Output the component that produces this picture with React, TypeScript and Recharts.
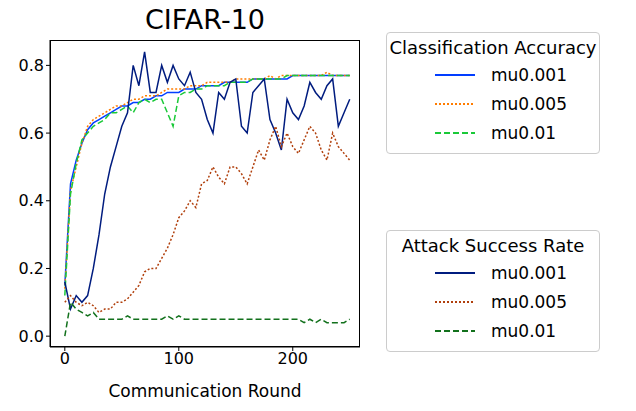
import React from "react";
import { LineChart, Line, XAxis, YAxis } from "recharts";

const rounds = Array.from({ length: 51 }, (_, i) => i * 5);
const accMu001 = [0.15,0.45,0.52,0.57,0.61,0.63,0.64,0.65,0.66,0.67,0.68,0.68,0.69,0.69,0.70,0.70,0.71,0.71,0.72,0.72,0.72,0.73,0.73,0.73,0.74,0.74,0.74,0.74,0.75,0.75,0.75,0.75,0.75,0.76,0.76,0.76,0.76,0.76,0.76,0.76,0.77,0.77,0.77,0.77,0.77,0.77,0.77,0.77,0.77,0.77,0.77];
const accMu005 = [0.14,0.43,0.50,0.57,0.62,0.64,0.65,0.66,0.67,0.68,0.68,0.69,0.70,0.70,0.71,0.71,0.71,0.72,0.73,0.73,0.73,0.73,0.74,0.74,0.74,0.75,0.75,0.75,0.75,0.75,0.76,0.76,0.76,0.76,0.76,0.76,0.77,0.76,0.77,0.77,0.77,0.77,0.77,0.77,0.77,0.77,0.78,0.77,0.77,0.77,0.77];
const accMu01 = [0.12,0.42,0.51,0.58,0.60,0.62,0.63,0.64,0.66,0.66,0.67,0.68,0.66,0.69,0.70,0.69,0.70,0.70,0.66,0.62,0.71,0.72,0.72,0.73,0.73,0.74,0.74,0.74,0.74,0.75,0.75,0.75,0.75,0.76,0.76,0.76,0.76,0.76,0.76,0.77,0.77,0.77,0.77,0.77,0.77,0.77,0.77,0.77,0.77,0.77,0.77];
const asrMu001 = [0.16,0.08,0.12,0.10,0.12,0.20,0.30,0.42,0.50,0.56,0.62,0.66,0.80,0.74,0.84,0.72,0.72,0.80,0.75,0.80,0.76,0.74,0.78,0.72,0.70,0.64,0.60,0.72,0.70,0.75,0.76,0.62,0.60,0.72,0.74,0.76,0.64,0.60,0.55,0.70,0.66,0.64,0.68,0.75,0.72,0.70,0.74,0.76,0.62,0.66,0.70];
const asrMu005 = [0.10,0.12,0.10,0.09,0.10,0.09,0.07,0.08,0.08,0.10,0.10,0.11,0.13,0.15,0.19,0.20,0.20,0.23,0.26,0.30,0.35,0.37,0.40,0.38,0.45,0.46,0.50,0.47,0.45,0.50,0.50,0.48,0.45,0.50,0.55,0.52,0.58,0.62,0.56,0.60,0.56,0.54,0.58,0.62,0.60,0.55,0.52,0.60,0.56,0.54,0.52];
const asrMu01 = [0.0,0.10,0.08,0.07,0.06,0.07,0.05,0.05,0.05,0.05,0.05,0.06,0.05,0.05,0.05,0.05,0.05,0.05,0.06,0.05,0.06,0.05,0.05,0.05,0.05,0.05,0.05,0.05,0.05,0.05,0.05,0.05,0.05,0.05,0.05,0.05,0.05,0.05,0.05,0.05,0.05,0.05,0.04,0.05,0.04,0.05,0.04,0.04,0.04,0.04,0.05];
const xTicks = [0, 100, 200];
const yTicks = [0, 0.2, 0.4, 0.6, 0.8];

const data = rounds.map((r, i) => ({
  r, a1: accMu001[i], a2: accMu005[i], a3: accMu01[i],
  s1: asrMu001[i], s2: asrMu005[i], s3: asrMu01[i],
}));

const font = "DejaVu Sans, sans-serif";

function LegendBox({ title, items, top }: { title: string; items: { label: string; color: string; dash?: string }[]; top: number }) {
  return (
    <div style={{ position: "absolute", left: 386, top, width: 212, border: "1px solid #ccc", borderRadius: 4, padding: "4px 0 6px 0", fontFamily: font, fontSize: 17, background: "#fff" }}>
      <div style={{ textAlign: "center", fontSize: 18, marginBottom: 2 }}>{title}</div>
      {items.map((it) => (
        <div key={it.label} style={{ display: "flex", alignItems: "center", height: 29, paddingLeft: 48 }}>
          <svg width={40} height={10}><line x1={0} y1={5} x2={40} y2={5} stroke={it.color} strokeWidth={1.8} strokeDasharray={it.dash} /></svg>
          <span style={{ marginLeft: 16 }}>{it.label}</span>
        </div>
      ))}
    </div>
  );
}

export default function App() {
  return (
    <div style={{ position: "relative", width: 636, height: 411, background: "#fff", margin: -8 }}>
      <div style={{ position: "absolute", left: 50, width: 310, top: 4, textAlign: "center", fontFamily: font, fontSize: 27 }}>CIFAR-10</div>
      <LineChart width={380} height={411} data={data} margin={{ top: 40, right: 20, bottom: 34, left: 0 }} style={{ position: "absolute", left: 0, top: 0 }}>
        <XAxis dataKey="r" type="number" domain={[-13, 259]} ticks={xTicks} allowDataOverflow tick={{ fontSize: 16, fill: "#000", fontFamily: font }} stroke="#000" tickSize={4}
          label={{ value: "Communication Round", position: "insideBottom", offset: -20, fontSize: 17, fill: "#000", fontFamily: font }} />
        <YAxis type="number" domain={[-0.032, 0.875]} ticks={yTicks} allowDataOverflow width={50} tickFormatter={(v: number) => v.toFixed(1)} tick={{ fontSize: 16, fill: "#000", fontFamily: font }} stroke="#000" tickSize={4} />
        <Line dataKey="a1" stroke="#023eff" strokeWidth={1.5} dot={false} isAnimationActive={false} />
        <Line dataKey="a2" stroke="#ff7c00" strokeWidth={1.5} strokeDasharray="2 2" dot={false} isAnimationActive={false} />
        <Line dataKey="a3" stroke="#1ac938" strokeWidth={1.5} strokeDasharray="6 3" dot={false} isAnimationActive={false} />
        <Line dataKey="s1" stroke="#001c7f" strokeWidth={1.5} dot={false} isAnimationActive={false} />
        <Line dataKey="s2" stroke="#b1400d" strokeWidth={1.5} strokeDasharray="2 2" dot={false} isAnimationActive={false} />
        <Line dataKey="s3" stroke="#12711c" strokeWidth={1.5} strokeDasharray="6 3" dot={false} isAnimationActive={false} />
      </LineChart>
      <div style={{ position: "absolute", left: 50, top: 40, width: 310, height: 307, border: "1px solid #000", boxSizing: "border-box", pointerEvents: "none" }} />
      <LegendBox title="Classification Accuracy" top={32} items={[
        { label: "mu0.001", color: "#023eff" },
        { label: "mu0.005", color: "#ff7c00", dash: "2 2" },
        { label: "mu0.01", color: "#1ac938", dash: "6 3" },
      ]} />
      <LegendBox title="Attack Success Rate" top={230} items={[
        { label: "mu0.001", color: "#001c7f" },
        { label: "mu0.005", color: "#b1400d", dash: "2 2" },
        { label: "mu0.01", color: "#12711c", dash: "6 3" },
      ]} />
    </div>
  );
}
